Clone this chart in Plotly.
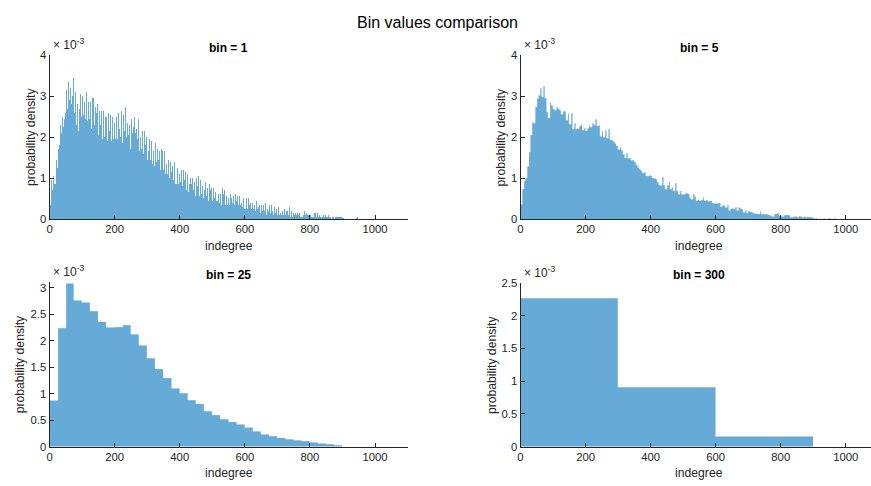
import plotly.graph_objects as go

# ---------------- data (probability density, in units of 1e-3) ----------------
bin_widths = [1, 5, 25, 300]
subplot_titles = ["bin = 1", "bin = 5", "bin = 25", "bin = 300"]
x_tick_values = [0, 200, 400, 600, 800, 1000]

bin1_density = [
    0.10,0.25,0.35,0.50,0.60, 0.55,0.95,0.60,0.90,0.70, 1.10,0.75,1.05,0.80,0.95, 0.85,1.20,0.95,0.85,1.15, 1.05,1.45,1.20,1.50,1.25,
    1.85,1.40,1.70,1.45,1.80, 1.80,2.35,2.00,2.30,1.85, 2.60,2.10,2.45,2.15,2.50, 2.10,2.60,2.25,2.10,2.65, 2.45,3.10,2.60,3.00,2.60,
    3.30,2.60,3.15,2.70,3.00, 2.70,3.40,2.85,3.35,2.80, 3.50,2.90,3.60,2.80,3.20, 2.65,3.30,2.80,3.35,2.85, 3.00,3.55,2.95,3.45,3.30,
    3.35,2.60,3.10,2.65,3.10, 2.35,2.95,2.30,2.90,2.60, 2.80,2.15,2.60,2.15,2.70, 2.55,3.20,2.70,3.10,2.75, 3.05,2.45,2.95,2.50,2.95,
    2.40,3.00,2.50,3.05,2.55, 2.95,2.35,2.85,2.30,2.85, 2.45,3.05,2.60,3.10,2.55, 3.00,2.40,2.90,2.35,2.85, 2.35,3.00,2.45,3.00,2.55,
    2.85,2.25,2.75,2.20,2.75, 2.35,2.95,2.40,2.95,2.55, 2.95,2.30,2.85,2.30,2.80, 2.15,2.75,1.90,2.70,2.60, 2.85,2.25,2.80,2.25,2.75,
    2.05,2.60,2.10,2.65,2.20, 2.90,2.30,2.80,2.25,2.65, 1.90,2.50,1.95,2.50,2.15, 2.65,2.05,2.55,2.00,2.45, 1.95,2.50,1.75,2.55,2.25,
    2.50,1.90,2.45,1.90,2.30, 2.00,2.60,2.05,2.60,2.15, 2.60,2.05,2.55,2.00,2.40, 1.90,2.45,1.95,2.50,2.10, 2.50,1.95,2.40,1.90,2.35,
    1.85,2.45,1.95,2.45,2.10, 2.50,1.90,2.45,1.95,2.30, 2.00,2.60,2.05,2.65,2.20, 2.55,1.95,2.50,2.00,2.25, 2.05,2.65,3.45,1.70,1.85,
    2.60,2.00,2.55,1.95,2.45, 2.15,2.75,2.20,2.75,2.35, 2.60,2.00,2.50,1.95,2.35, 2.00,2.60,2.05,2.65,2.20, 2.30,1.75,2.25,1.70,2.10,
    1.85,2.45,1.95,2.45,2.10, 2.30,1.70,2.25,1.70,2.05, 1.90,2.50,1.90,2.45,2.10, 2.25,1.70,2.20,1.70,2.05, 1.95,2.50,2.00,2.45,2.10,
    2.20,1.65,2.15,1.70,2.00, 1.65,2.20,1.70,2.25,1.85, 2.15,1.60,2.10,1.60,2.05, 1.60,2.15,1.60,2.10,1.80, 2.05,1.50,2.00,1.55,1.85,
    1.45,1.95,1.50,1.95,1.65, 2.05,1.50,1.95,1.45,1.85, 1.45,1.95,1.45,1.90,1.65, 1.80,1.35,1.75,1.35,1.65, 1.30,1.75,1.30,1.70,1.45,
    1.85,1.35,1.80,1.40,1.65, 1.25,1.70,1.30,1.70,1.45, 1.75,1.30,1.65,1.25,1.55, 1.20,1.65,1.25,1.70,1.40, 1.65,1.20,1.65,1.20,1.50,
    1.20,1.60,1.20,1.65,1.35, 1.55,1.10,1.50,1.10,1.35, 1.05,1.45,1.10,1.50,1.20, 1.45,1.00,1.40,1.00,1.25, 0.95,1.40,1.00,1.40,1.15,
    1.35,0.90,1.30,0.95,1.15, 0.95,1.35,0.95,1.40,1.10, 1.25,0.85,1.25,0.85,1.10, 0.85,1.25,0.90,1.25,1.00, 1.30,0.85,1.25,0.85,1.10,
    0.85,1.25,0.90,1.30,1.00, 1.20,0.80,1.20,0.80,1.05, 0.80,1.20,0.80,1.20,0.95, 1.20,0.75,1.15,0.80,1.00, 0.70,1.10,0.75,1.10,0.85,
    1.00,0.65,1.00,0.65,0.85, 0.65,1.00,0.65,1.00,0.80, 1.25,0.85,1.20,0.80,1.00, 0.65,1.00,0.70,1.00,0.80, 0.90,0.55,0.90,0.55,0.75,
    0.65,1.00,0.65,1.00,0.80, 1.10,0.75,1.05,0.70,0.95, 0.55,0.90,0.60,0.95,0.70, 0.95,0.60,0.95,0.60,0.80, 0.55,0.85,0.50,0.85,0.70,
    1.05,0.70,1.05,0.70,0.90, 0.50,0.85,0.55,0.85,0.70, 0.75,0.45,0.75,0.45,0.60, 0.55,0.85,0.50,0.85,0.70, 0.75,0.45,0.75,0.45,0.60,
    0.45,0.75,0.45,0.75,0.60, 0.80,0.50,0.75,0.45,0.65, 0.50,0.80,0.45,0.80,0.60, 0.75,0.45,0.80,0.45,0.60, 0.40,0.65,0.40,0.65,0.50,
    0.60,0.35,0.60,0.35,0.50, 0.45,0.75,0.50,0.75,0.60, 0.70,0.40,0.70,0.40,0.55, 0.35,0.55,0.35,0.55,0.45, 0.60,0.35,0.60,0.35,0.50,
    0.35,0.55,0.35,0.60,0.40, 0.60,0.35,0.55,0.35,0.50, 0.40,0.65,0.40,0.70,0.50, 0.55,0.35,0.55,0.35,0.45, 0.35,0.60,0.35,0.55,0.45,
    0.55,0.30,0.55,0.35,0.45, 0.35,0.55,0.30,0.55,0.45, 0.55,0.35,0.60,0.35,0.40, 0.30,0.50,0.30,0.50,0.35, 0.50,0.25,0.50,0.25,0.40,
    0.30,0.50,0.25,0.50,0.35, 0.50,0.25,0.50,0.25,0.40, 0.30,0.50,0.30,0.55,0.35, 0.40,0.20,0.40,0.20,0.30, 0.25,0.45,0.25,0.40,0.30,
    0.45,0.25,0.40,0.20,0.35, 0.20,0.35,0.20,0.40,0.25, 0.45,0.25,0.45,0.25,0.30, 0.15,0.30,0.15,0.30,0.15, 0.35,0.15,0.35,0.15,0.25,
    0.20,0.35,0.20,0.35,0.20, 0.30,0.15,0.35,0.15,0.25, 0.20,0.40,0.20,0.40,0.25, 0.30,0.10,0.30,0.10,0.25, 0.20,0.35,0.20,0.40,0.25,
    0.35,0.15,0.35,0.15,0.30, 0.15,0.35,0.15,0.35,0.20, 0.25,0.10,0.25,0.10,0.10, 0.15,0.30,0.15,0.30,0.15, 0.25,0.05,0.25,0.05,0.15,
    0.10,0.30,0.10,0.30,0.20, 0.25,0.10,0.30,0.10,0.15, 0.10,0.25,0.10,0.25,0.15, 0.20,0.05,0.20,0.10,0.15, 0.05,0.25,0.05,0.25,0.10,
    0.20,0.05,0.20,0.05,0.15, 0.05,0.20,0.05,0.25,0.10, 0.30,0.10,0.30,0.10,0.20, 0.05,0.20,0.05,0.20,0.10, 0.20,0.05,0.20,0.05,0.15,
    0.10,0.15,0.10,0.15,0.10, 0.15,0.10,0.15,0.10,0.10, 0.10,0.15,0.05,0.15,0.10, 0.15,0.05,0.15,0.05,0.10, 0.05,0.10,0.05,0.10,0.05,
    0.10,0.05,0.05,0.05,0.05, 0.10,0.15,0.10,0.20,0.10, 0.15,0.10,0.15,0.10,0.15, 0.10,0.20,0.10,0.20,0.10, 0.10,0.05,0.10,0.05,0.10,
    0.05,0.10,0.05,0.10,0.05, 0.10,0.05,0.05,0.05,0.05, 0.05,0.15,0.10,0.15,0.05, 0.15,0.05,0.15,0.05,0.10, 0.05,0.15,0.05,0.15,0.10,
    0.15,0.05,0.15,0.05,0.10, 0.00,0.05,0.05,0.05,0.05, 0.05,0.00,0.05,0.05,0.05, 0.05,0.10,0.00,0.10,0.05, 0.10,0.05,0.10,0.05,0.05,
    0.05,0.00,0.05,0.05,0.05, 0.10,0.05,0.10,0.05,0.10, 0.05,0.10,0.05,0.05,0.05, 0.05,0.00,0.05,0.05,0.05, 0.10,0.05,0.05,0.05,0.05,
    0.00,0.05,0.10,0.05,0.05, 0.05,0.05,0.00,0.10,0.05, 0.05,0.10,0.05,0.00,0.05, 0.05,0.00,0.10,0.05,0.05, 0.05,0.05,0.00,0.05,0.05,
    0.03,0.00,0.00,0.03,0.00, 0.00,0.00,0.05,0.00,0.00, 0.00,0.05,0.00,0.00,0.00, 0.00,0.00,0.00,0.00,0.03, 0.05,0.00,0.00,0.00,0.00,
    0.00,0.00,0.00,0.00,0.00, 0.00,0.00,0.05,0.00,0.00, 0.00,0.00,0.00,0.00,0.00, 0.00,0.00,0.00,0.03,0.00, 0.00,0.05,0.00,0.00,0.00,
    0.05,0.00,0.00,0.05,0.00,
]

bin5_density = [
    0.36, 0.74, 0.93, 1.00, 1.29, 1.64, 2.06, 2.36, 2.34, 2.75,
    2.95, 3.02, 3.20, 2.99, 3.25, 2.96, 2.62, 2.48, 2.86, 2.78,
    2.70, 2.66, 2.75, 2.70, 2.67, 2.56, 2.64, 2.64, 2.42, 2.58,
    2.32, 2.58, 2.20, 2.34, 2.20, 2.21, 2.28, 2.32, 2.18, 2.22,
    2.16, 2.22, 2.30, 2.25, 2.34, 2.30, 2.44, 2.28, 2.30, 2.02,
    2.16, 2.00, 2.17, 1.98, 2.20, 1.94, 1.93, 1.90, 1.85, 1.79,
    1.70, 1.76, 1.68, 1.58, 1.50, 1.61, 1.48, 1.50, 1.44, 1.44,
    1.40, 1.32, 1.26, 1.22, 1.18, 1.13, 1.15, 1.06, 1.05, 1.07,
    1.06, 1.01, 0.99, 0.98, 0.90, 0.83, 0.82, 1.02, 0.83, 0.73,
    0.82, 0.91, 0.74, 0.78, 0.69, 0.88, 0.69, 0.60, 0.69, 0.60,
    0.60, 0.63, 0.63, 0.61, 0.52, 0.48, 0.61, 0.55, 0.45, 0.48,
    0.45, 0.47, 0.53, 0.45, 0.46, 0.44, 0.44, 0.45, 0.39, 0.38,
    0.38, 0.38, 0.40, 0.30, 0.33, 0.33, 0.28, 0.34, 0.21, 0.25,
    0.26, 0.24, 0.29, 0.21, 0.28, 0.26, 0.24, 0.16, 0.21, 0.15,
    0.20, 0.18, 0.17, 0.14, 0.14, 0.13, 0.13, 0.20, 0.12, 0.13,
    0.12, 0.12, 0.11, 0.10, 0.07, 0.06, 0.13, 0.13, 0.14, 0.08,
    0.07, 0.06, 0.10, 0.10, 0.10, 0.10, 0.04, 0.04, 0.06, 0.07,
    0.04, 0.08, 0.06, 0.04, 0.06, 0.05, 0.05, 0.05, 0.05, 0.04,
    0.015, 0.01, 0.01, 0.005, 0.01, 0.005, 0.01, 0.005, 0.005, 0.01,
    0.02, 0.005, 0.005, 0.01, 0.005, 0.0, 0.005, 0.0, 0.005, 0.005,
]

bin25_density = [
    0.87, 2.24, 3.08, 2.76, 2.72, 2.56, 2.36, 2.25, 2.26, 2.30,
    2.12, 1.91, 1.67, 1.47, 1.30, 1.10, 1.01, 0.88, 0.81, 0.67,
    0.60, 0.52, 0.47, 0.42, 0.36, 0.29, 0.23, 0.20, 0.17, 0.14,
    0.12, 0.11, 0.08, 0.06, 0.05, 0.03,
]

bin300_density = [2.27, 0.91, 0.155]

all_densities = [bin1_density, bin5_density, bin25_density, bin300_density]
y_ranges = [[0, 4], [0, 4], [0, 3.1], [0, 2.5]]
y_ticks = [[0, 1, 2, 3, 4], [0, 1, 2, 3, 4],
           [0, 0.5, 1, 1.5, 2, 2.5, 3], [0, 0.5, 1, 1.5, 2, 2.5]]
y_ticktext = [["0", "1", "2", "3", "4"], ["0", "1", "2", "3", "4"],
              ["0", "0.5", "1", "1.5", "2", "2.5", "3"],
              ["0", "0.5", "1", "1.5", "2", "2.5"]]

# ---------------- layout geometry (pixels) ----------------
W, H = 871, 486
# (left, right, top, bottom) in px for each axes
axes_px = [
    (46.7, 406.0, 50.7, 218.3),
    (519.3, 871.0, 50.7, 218.3),
    (46.7, 406.0, 283.3, 451.7),
    (519.3, 871.0, 284.0, 451.7),
]
x_range_right = [0, (871.0 - 519.3) / 0.3264]
x_ranges = [[0, 1100], x_range_right, [0, 1100], x_range_right]
ylabel_x = [28, 500, 17, 490]

FACE = "rgb(102,170,215)"
EDGE = "rgba(255,255,255,0.55)"
INK = "#262626"
FONT = "Liberation Sans, Arial, Helvetica, sans-serif"

fig = go.Figure()

for i, (dens, w) in enumerate(zip(all_densities, bin_widths)):
    ax = "" if i == 0 else str(i + 1)
    n = len(dens)
    centers = [k * w + w / 2 for k in range(n)]
    fig.add_trace(go.Bar(
        x=centers, y=dens, width=[w] * n,
        marker=dict(color=FACE, line=dict(width=0)),
        xaxis="x" + ax, yaxis="y" + ax, showlegend=False, hoverinfo="skip",
    ))
    if w > 1:
        edges = [k * w for k in range(n + 1)]
        fig.add_trace(go.Scatter(
            x=edges, y=dens + [dens[-1]], mode="lines",
            line=dict(shape="hv", color=EDGE, width=1),
            xaxis="x" + ax, yaxis="y" + ax, showlegend=False, hoverinfo="skip",
        ))

layout = dict(
    width=W, height=H,
    margin=dict(l=0, r=0, t=0, b=0),
    paper_bgcolor="white", plot_bgcolor="white",
    bargap=0, barmode="overlay",
    font=dict(family=FONT, color=INK),
)

annotations = []
for i in range(4):
    l, r, t, b = axes_px[i]
    ax = "" if i == 0 else str(i + 1)
    layout["xaxis" + ax] = dict(
        domain=[l / W, r / W], range=x_ranges[i], anchor="y" + ax,
        tickvals=x_tick_values, ticks="inside", ticklen=4, tickwidth=1,
        tickcolor=INK, showline=True, linecolor=INK, linewidth=1,
        showgrid=False, zeroline=False,
        tickfont=dict(size=11.3, color=INK, family=FONT),
    )
    layout["yaxis" + ax] = dict(
        domain=[1 - b / H, 1 - t / H], range=y_ranges[i], anchor="x" + ax,
        tickvals=y_ticks[i], ticktext=y_ticktext[i],
        ticks="inside", ticklen=4, tickwidth=1,
        tickcolor=INK, showline=True, linecolor=INK, linewidth=1,
        showgrid=False, zeroline=False,
        tickfont=dict(size=11.3, color=INK, family=FONT),
    )
    xc = (l + (r if i % 2 == 0 else 878.0)) / 2
    annotations.append(dict(
        text="<b>" + subplot_titles[i] + "</b>", x=xc / W, y=1 - (t - 8) / H,
        xref="paper", yref="paper", xanchor="center", yanchor="middle",
        showarrow=False, font=dict(size=12, color="black", family=FONT),
    ))
    annotations.append(dict(
        text="indegree", x=xc / W, y=1 - (b + 27.5) / H,
        xref="paper", yref="paper", xanchor="center", yanchor="middle",
        showarrow=False, font=dict(size=12.2, color=INK, family=FONT),
    ))
    annotations.append(dict(
        text="probability density", x=ylabel_x[i] / W, y=1 - ((t + b) / 2) / H,
        xref="paper", yref="paper", xanchor="center", yanchor="middle",
        textangle=-90, showarrow=False,
        font=dict(size=12.2, color=INK, family=FONT),
    ))
    annotations.append(dict(
        text="× 10<sup>-3</sup>", x=(l + 1) / W, y=1 - (t - 1) / H,
        xref="paper", yref="paper", xanchor="left", yanchor="bottom",
        showarrow=False, font=dict(size=12, color=INK, family=FONT),
    ))

annotations.append(dict(
    text="Bin values comparison", x=0.5, y=1 - 17 / H,
    xref="paper", yref="paper", xanchor="center", yanchor="middle",
    showarrow=False, font=dict(size=16, color="black", family=FONT),
))
layout["annotations"] = annotations
fig.update_layout(**layout)

# static rendering keeps the exact (sub-pixel) bar widths, like the original
fig.write_html("out.html", config={"staticPlot": True})
